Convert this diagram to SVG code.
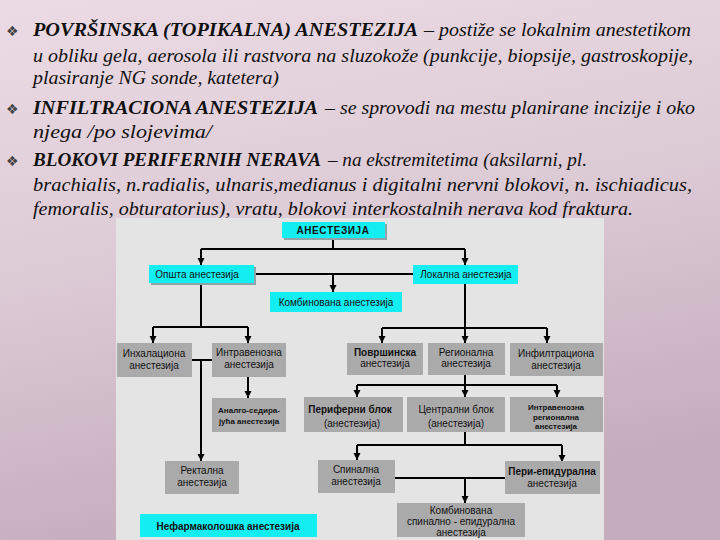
<svg xmlns="http://www.w3.org/2000/svg" width="720" height="540" viewBox="0 0 720 540">
<defs>
<linearGradient id="bg" x1="0" y1="0" x2="0.25" y2="1">
<stop offset="0" stop-color="#ecdbe4"/>
<stop offset="0.5" stop-color="#dccad5"/>
<stop offset="1" stop-color="#c5adbe"/>
</linearGradient>
<marker id="ah" markerUnits="userSpaceOnUse" markerWidth="8" markerHeight="8" refX="7" refY="3.5" orient="auto">
<path d="M0,0 L7,3.5 L0,7 z" fill="#000"/>
</marker>
<style>
.hd{font-family:"Liberation Serif",serif;font-style:italic;font-size:18px;fill:#111}
.b{font-weight:bold}
.bul{font-family:"DejaVu Sans",sans-serif;font-size:14px;fill:#444}
.cy{fill:#12eef2}
.sh{fill:#8fa4a8}
.gr{fill:#aaaaaa}
.t{font-family:"Liberation Sans",Arial,sans-serif;font-size:10px;fill:#111;text-anchor:middle}
.s{font-size:8px;font-weight:bold}
.bd{font-weight:bold}
.c path{stroke:#000;stroke-width:2;fill:none}
.c .a{marker-end:url(#ah)}
</style>
</defs>
<rect width="720" height="540" fill="url(#bg)"/>
<g id="text">
<text class="bul" x="6" y="36">❖</text>
<text class="hd b" x="33" y="36" textLength="385" lengthAdjust="spacingAndGlyphs">POVRŠINSKA (TOPIKALNA) ANESTEZIJA</text>
<text class="hd" x="424" y="36" textLength="267" lengthAdjust="spacingAndGlyphs">– postiže se lokalnim anestetikom</text>
<text class="hd" x="33" y="62" textLength="660" lengthAdjust="spacingAndGlyphs">u obliku gela, aerosola ili rastvora na sluzokože (punkcije, biopsije, gastroskopije,</text>
<text class="hd" x="33" y="84" textLength="246" lengthAdjust="spacingAndGlyphs">plasiranje NG sonde, katetera)</text>
<text class="bul" x="6" y="114">❖</text>
<text class="hd b" x="33" y="114" textLength="285" lengthAdjust="spacingAndGlyphs">INFILTRACIONA ANESTEZIJA</text>
<text class="hd" x="325" y="114" textLength="370" lengthAdjust="spacingAndGlyphs">– se sprovodi na mestu planirane incizije i oko</text>
<text class="hd" x="33" y="138" textLength="179" lengthAdjust="spacingAndGlyphs">njega /po slojevima/</text>
<text class="bul" x="6" y="166">❖</text>
<text class="hd b" x="33" y="166" textLength="288" lengthAdjust="spacingAndGlyphs">BLOKOVI PERIFERNIH NERAVA</text>
<text class="hd" x="328" y="166" textLength="259" lengthAdjust="spacingAndGlyphs">– na ekstremitetima (aksilarni, pl.</text>
<text class="hd" x="33" y="191" textLength="659" lengthAdjust="spacingAndGlyphs">brachialis, n.radialis, ulnaris,medianus i digitalni nervni blokovi, n. ischiadicus,</text>
<text class="hd" x="33" y="215" textLength="600" lengthAdjust="spacingAndGlyphs">femoralis, obturatorius), vratu, blokovi interkostalnih nerava kod fraktura.</text>
</g>
<rect x="116" y="218" width="488" height="322" fill="#e4e4e4"/>
<g id="connectors" class="c">
<path d="M333 238 V249"/>
<path d="M201 249 H465"/>
<path class="a" d="M201 249 V265"/>
<path class="a" d="M465 249 V265"/>
<path d="M254 274 H413"/>
<path class="a" d="M333 274 V292"/>
<path d="M201 283 V327"/>
<path d="M153 327 H248"/>
<path class="a" d="M153 327 V343"/>
<path class="a" d="M248 327 V343"/>
<path d="M192 360 H212"/>
<path class="a" d="M201 360 V461"/>
<path class="a" d="M248 377 V398"/>
<path d="M465 284 V328"/>
<path d="M382 328 H547"/>
<path class="a" d="M382 328 V343"/>
<path class="a" d="M465 328 V343"/>
<path class="a" d="M547 328 V343"/>
<path d="M465 375 V385"/>
<path d="M357 385 H557"/>
<path class="a" d="M357 385 V397"/>
<path class="a" d="M465 385 V397"/>
<path class="a" d="M557 385 V397"/>
<path d="M465 432 V445"/>
<path d="M357 445 H562"/>
<path class="a" d="M357 445 V460"/>
<path class="a" d="M562 445 V462"/>
<path d="M395 478 H505"/>
<path class="a" d="M465 478 V503"/>
</g>
<g id="n-anestezija">
<rect class="sh" x="284" y="224" width="103" height="16"/>
<rect class="cy" x="282" y="222" width="103" height="16"/>
<text class="t bd" x="333" y="234" font-size="10" letter-spacing="0.6">АНЕСТЕЗИЈА</text>
</g>
<g id="n-opsta">
<rect class="sh" x="151" y="267" width="105" height="18"/>
<rect class="cy" x="149" y="265" width="105" height="18"/>
<text class="t" x="197" y="278" font-size="10.5">Општа анестезија</text>
</g>
<g id="n-lokalna">
<rect class="cy" x="413" y="265" width="105" height="19"/>
<text class="t" x="466" y="278" font-size="10.5">Локална анестезија</text>
</g>
<g id="n-kombinovana">
<rect class="cy" x="270" y="292" width="132" height="20"/>
<text class="t" x="336" y="306" font-size="10.5">Комбинована анестезија</text>
</g>
<g id="n-inhalaciona">
<rect class="gr" x="117" y="343" width="75" height="34"/>
<text class="t" x="154" y="357" font-size="10.5">Инхалациона</text>
<text class="t" x="154" y="369" font-size="10.5">анестезија</text>
</g>
<g id="n-intravenozna">
<rect class="gr" x="212" y="343" width="74" height="34"/>
<text class="t" x="249" y="356" font-size="10.5">Интравенозна</text>
<text class="t" x="249" y="368" font-size="10.5">анестезија</text>
</g>
<g id="n-analgo">
<rect class="gr" x="212" y="398" width="74" height="34"/>
<text class="t s" x="249" y="413">Аналго-седира-</text>
<text class="t s" x="249" y="424">јућа анестезија</text>
</g>
<g id="n-rektalna">
<rect class="gr" x="165" y="461" width="74" height="33"/>
<text class="t" x="202" y="474">Ректална</text>
<text class="t" x="202" y="486">анестезија</text>
</g>
<g id="n-nefarmakoloska">
<rect class="cy" x="140" y="514" width="177" height="23"/>
<text class="t bd" x="228" y="530" font-size="13">Нефармаколошка анестезија</text>
</g>
<g id="n-povrsinska">
<rect class="gr" x="347" y="343" width="76" height="32"/>
<text class="t bd" x="385" y="356">Површинска</text>
<text class="t" x="385" y="367">анестезија</text>
</g>
<g id="n-regionalna">
<rect class="gr" x="428" y="343" width="77" height="32"/>
<text class="t" x="466" y="356">Регионална</text>
<text class="t" x="466" y="367">анестезија</text>
</g>
<g id="n-infiltraciona">
<rect class="gr" x="510" y="343" width="93" height="33"/>
<text class="t" x="556" y="357" font-size="10.5">Инфилтрациона</text>
<text class="t" x="556" y="369" font-size="10.5">анестезија</text>
</g>
<g id="n-periferni">
<rect class="gr" x="304" y="397" width="99" height="35"/>
<text class="t bd" x="350" y="413" font-size="10.5">Периферни блок</text>
<text class="t" x="352" y="427" font-size="10.5">(анестезија)</text>
</g>
<g id="n-centralni">
<rect class="gr" x="407" y="397" width="98" height="35"/>
<text class="t" x="456" y="413" font-size="10.5">Централни блок</text>
<text class="t" x="456" y="427" font-size="10.5">(анестезија)</text>
</g>
<g id="n-iv-regionalna">
<rect class="gr" x="510" y="397" width="93" height="35"/>
<text class="t s" x="556" y="410">Интравенозна</text>
<text class="t s" x="556" y="419.5">регионална</text>
<text class="t s" x="556" y="429">анестезија</text>
</g>
<g id="n-spinalna">
<rect class="gr" x="318" y="460" width="77" height="33"/>
<text class="t" x="356" y="473">Спинална</text>
<text class="t" x="356" y="485">анестезија</text>
</g>
<g id="n-periepiduralna">
<rect class="gr" x="505" y="461" width="95" height="33"/>
<text class="t bd" x="552" y="475">Пери-епидурална</text>
<text class="t" x="552" y="487">анестезија</text>
</g>
<g id="n-kombinovana-se">
<rect class="gr" x="397" y="503" width="128" height="34"/>
<text class="t" x="461" y="514">Комбинована</text>
<text class="t" x="461" y="525">спинално - епидурална</text>
<text class="t" x="461" y="536">анестезија</text>
</g>
</svg>
